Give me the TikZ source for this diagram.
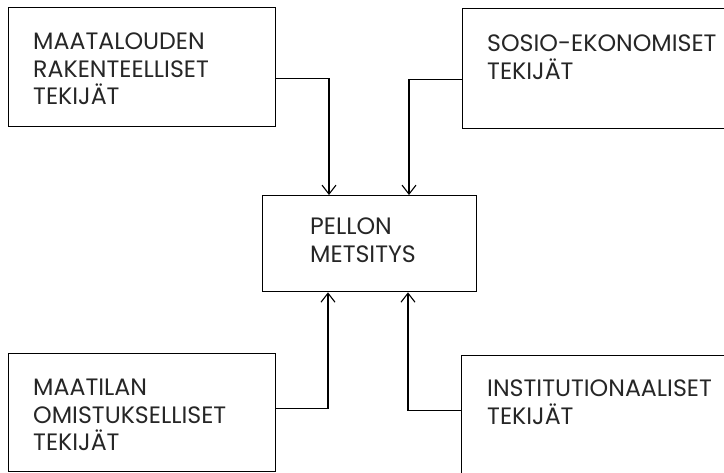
\documentclass[tikz,border=0pt]{standalone}
\usepackage{fontspec}
\setmainfont{Poppins}
\usetikzlibrary{positioning,arrows.meta,calc}

\tikzset{
  box/.style={draw,line width=1.3pt,minimum width=267pt,minimum height=119pt,
    anchor=north west,inner sep=0pt},
  txt/.style={anchor=north west,inner sep=0pt,align=left,
    font=\fontsize{23.7}{27.5}\selectfont,text=black!85},
  link/.style={->,line width=1.3pt}
}

\begin{document}
\begin{tikzpicture}[x=1pt,y=-1pt,>={Straight Barb[length=9pt,width=14pt,line width=1.1pt]}]
  \clip (0,0) rectangle (724,472);
  \fill[white] (0,0) rectangle (724,472);
  % the five boxes
  \node[box] (maat) at (8,7) {};
  \node[box,minimum width=280pt,minimum height=120pt] (sosio) at (462,8) {};
  \node[box,minimum width=214pt,minimum height=96pt] (pellon) at (262,195) {};
  \node[box,minimum height=118pt] (omist) at (8,353) {};
  \node[box,minimum width=280pt] (inst) at (461,355) {};
  % texts
  \node[txt] (maattxt) at ($(maat.north west)+(25,26)$) {MAATALOUDEN\\RAKENTEELLISET\\TEKIJÄT};
  \node[txt] (sosiotxt) at ($(sosio.north west)+(25,27)$) {SOSIO-EKONOMISET\\TEKIJÄT};
  \node[txt] (pellontxt) at ($(pellon.north west)+(48,23)$) {PELLON\\METSITYS};
  \node[txt] (omisttxt) at ($(omist.north west)+(25,26)$) {MAATILAN\\OMISTUKSELLISET\\TEKIJÄT};
  \node[txt] (insttxt) at ($(inst.north west)+(26,25)$) {INSTITUTIONAALISET\\TEKIJÄT};
  % connectors into the centre box
  \coordinate (inA) at ([xshift=67pt]pellon.north west);
  \coordinate (inB) at ([xshift=147pt]pellon.north west);
  \coordinate (inC) at ([xshift=66pt]pellon.south west);
  \coordinate (inD) at ([xshift=146pt]pellon.south west);
  \draw[link] ([yshift=-11.5pt]maat.east) -| (inA);
  \draw[link] ([yshift=-11pt]sosio.west) -| (inB);
  \draw[link] ([yshift=4pt]omist.east) -| (inC);
  \draw[link] ([yshift=5pt]inst.west) -| (inD);
\end{tikzpicture}
\end{document}
